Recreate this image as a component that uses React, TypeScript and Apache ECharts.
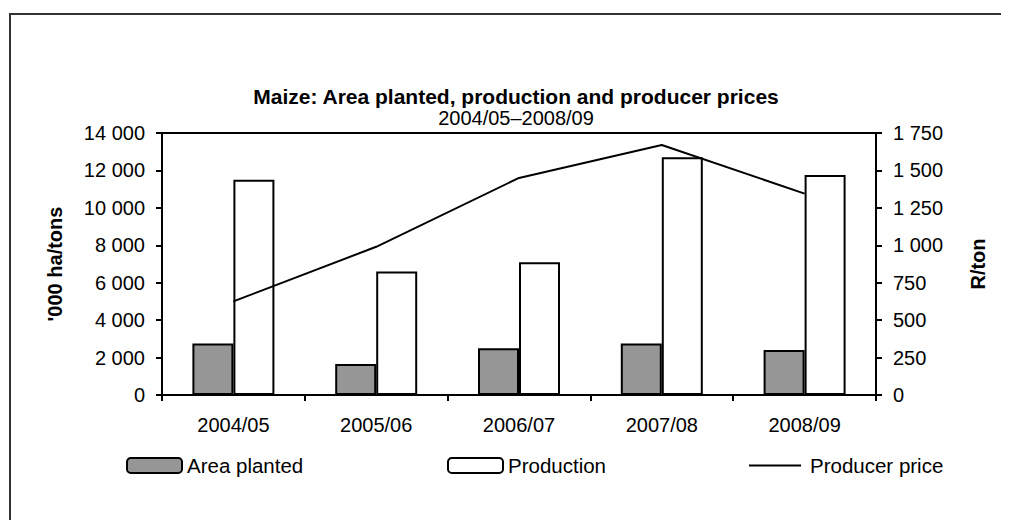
import React, { useEffect, useRef } from "react";
import * as echarts from "echarts";

const categories = ["2004/05", "2005/06", "2006/07", "2007/08", "2008/09"];
const areaPlanted = [2750, 1650, 2500, 2750, 2400];
const production = [11500, 6600, 7100, 12700, 11750];
const producerPrice = [625, 990, 1450, 1670, 1345];

const titleText = "Maize: Area planted, production and producer prices";
const subtitleText = "2004/05\u20132008/09";

const FONT = "'Liberation Sans', Arial, Helvetica, sans-serif";
const fmt = (v: number) => String(v).replace(/\B(?=(\d{3})+(?!\d))/g, " ");

export default function App() {
  const ref = useRef<HTMLDivElement>(null);
  useEffect(() => {
    if (!ref.current) return;
    const chart = echarts.init(ref.current, undefined, { renderer: "svg" });
    const axisLine = { show: true, lineStyle: { color: "#000", width: 2 } };
    const axisTick = { show: true, length: 6, lineStyle: { color: "#000", width: 2 } };
    const labelStyle = { color: "#000", fontSize: 20, fontFamily: FONT };
    chart.setOption({
      animation: false,
      backgroundColor: "#fff",
      textStyle: { fontFamily: FONT },
      graphic: [
        {
          type: "rect",
          z: -10,
          shape: { x: 10, y: 14, width: 1200, height: 800 },
          style: { fill: "none", stroke: "#333", lineWidth: 2 },
          silent: true,
        },
      ],
      title: [
        {
          text: titleText,
          left: 516,
          top: 85,
          textAlign: "center",
          padding: 0,
          textStyle: { fontSize: 21, fontWeight: "bold", color: "#000", fontFamily: FONT, lineHeight: 22 },
        },
        {
          text: subtitleText,
          left: 516,
          top: 107,
          textAlign: "center",
          padding: 0,
          textStyle: { fontSize: 20, fontWeight: "normal", color: "#000", fontFamily: FONT, lineHeight: 22 },
        },
      ],
      grid: {
        left: 162,
        right: 133,
        top: 133,
        bottom: 133,
        show: true,
        borderColor: "#000",
        borderWidth: 2,
        backgroundColor: "transparent",
      },
      legend: [
        {
          data: ["Area planted"],
          left: 126,
          top: 455,
          padding: 0,
          itemWidth: 55,
          itemHeight: 15,
          textStyle: { ...labelStyle, fontSize: 20.5, lineHeight: 20 },
        },
        {
          data: ["Production"],
          left: 447,
          top: 455,
          padding: 0,
          itemWidth: 55,
          itemHeight: 15,
          textStyle: { ...labelStyle, fontSize: 20.5, lineHeight: 20 },
        },
        {
          data: [{ name: "Producer price", icon: "rect" }],
          left: 749,
          top: 455,
          padding: 0,
          itemWidth: 52,
          itemHeight: 2,
          itemStyle: { color: "#000", borderWidth: 0 },
          textStyle: { ...labelStyle, fontSize: 20.5, lineHeight: 20, padding: [0, 0, 0, 4] },
        },
      ],
      xAxis: {
        type: "category",
        data: categories,
        axisLine,
        axisTick,
        axisLabel: { ...labelStyle, margin: 20 },
        splitLine: { show: false },
      },
      yAxis: [
        {
          type: "value",
          min: 0,
          max: 14000,
          interval: 2000,
          name: "'000 ha/tons",
          nameLocation: "middle",
          nameRotate: 90,
          nameGap: 97,
          nameTextStyle: { color: "#000", fontSize: 20, fontWeight: "bold", fontFamily: FONT },
          axisLine,
          axisTick,
          axisLabel: { ...labelStyle, margin: 17, formatter: fmt },
          splitLine: { show: false },
        },
        {
          type: "value",
          min: 0,
          max: 1750,
          interval: 250,
          position: "right",
          name: "R/ton",
          nameLocation: "middle",
          nameRotate: 90,
          nameGap: 92,
          nameTextStyle: { color: "#000", fontSize: 20, fontWeight: "bold", fontFamily: FONT },
          axisLine,
          axisTick,
          axisLabel: { ...labelStyle, margin: 17, formatter: fmt },
          splitLine: { show: false },
        },
      ],
      series: [
        {
          name: "Area planted",
          type: "bar",
          data: areaPlanted,
          barWidth: 41,
          barGap: "0%",
          itemStyle: { color: "#969696", borderColor: "#000", borderWidth: 2 },
        },
        {
          name: "Production",
          type: "bar",
          data: production,
          barWidth: 41,
          barGap: "0%",
          itemStyle: { color: "#fff", borderColor: "#000", borderWidth: 2 },
        },
        {
          name: "Producer price",
          type: "line",
          yAxisIndex: 1,
          data: producerPrice,
          symbol: "none",
          lineStyle: { color: "#000", width: 2 },
          itemStyle: { color: "#000" },
          z: 5,
        },
      ],
    });
    return () => chart.dispose();
  }, []);
  return <div ref={ref} style={{ width: 1009, height: 528, margin: -8 }} />;
}
